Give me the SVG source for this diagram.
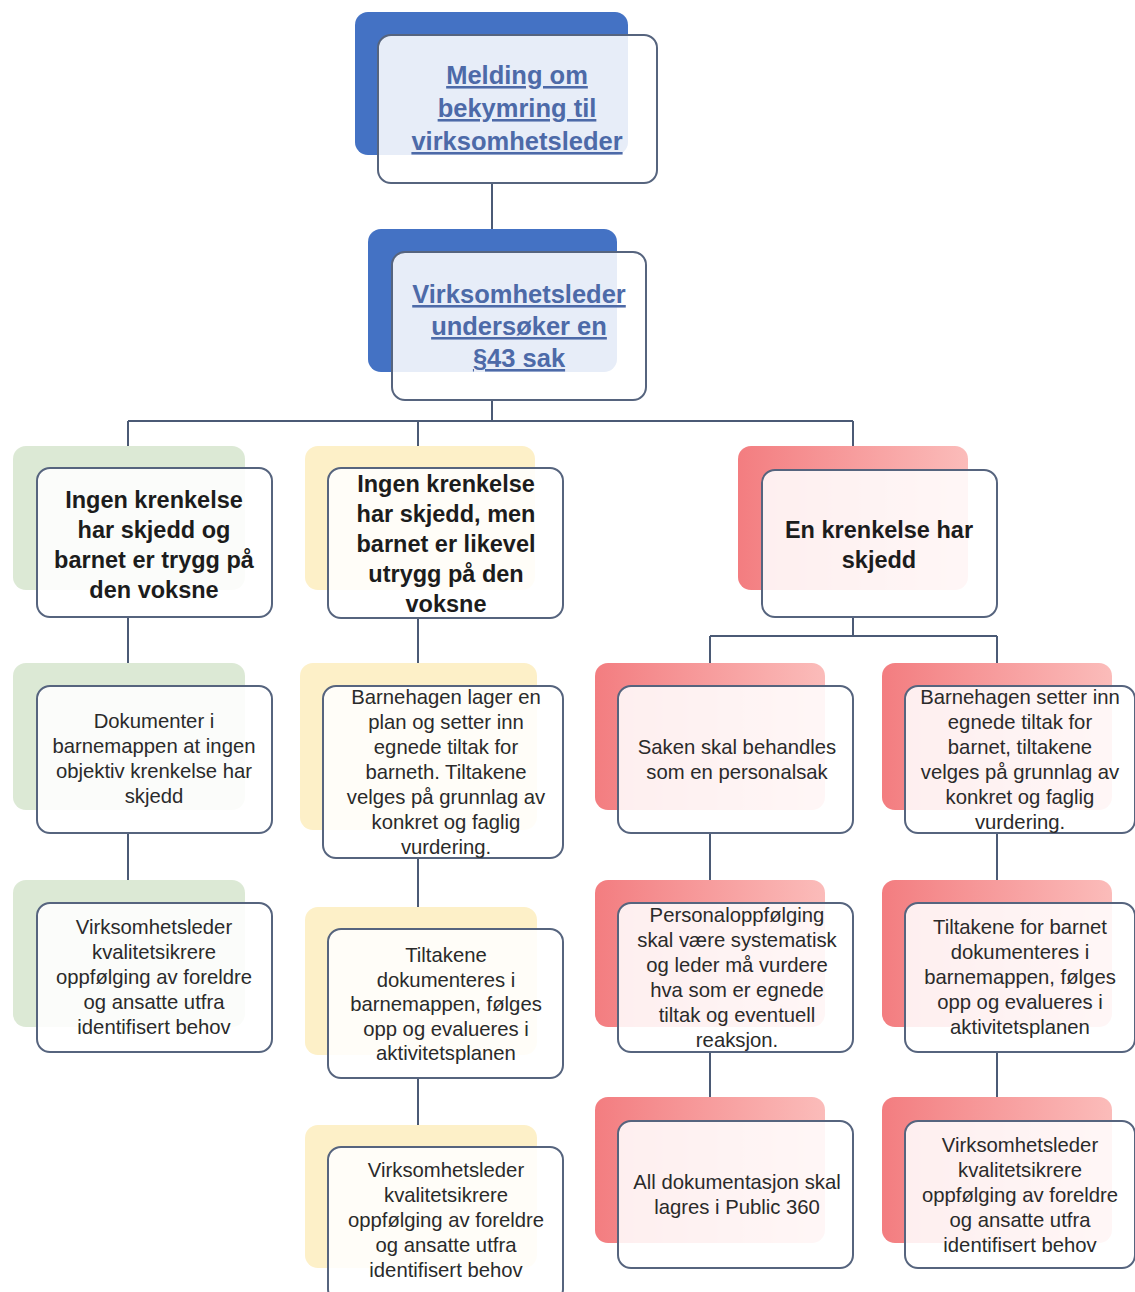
<svg xmlns="http://www.w3.org/2000/svg" width="1135" height="1292" viewBox="0 0 1135 1292">
<defs>
<linearGradient id="gRed" x1="0" y1="0" x2="1" y2="0">
<stop offset="0" stop-color="#f37d80"/>
<stop offset="1" stop-color="#fbbcba"/>
</linearGradient>
<style>
.front{fill:#ffffff;fill-opacity:0.87;stroke:#56647e;stroke-width:2}
.blue{fill:#4472c4}
.green{fill:#dce9d5}
.yellow{fill:#fdf0c8}
.red{fill:url(#gRed)}
.conn{stroke:#4b5a75;stroke-width:2;fill:none}
.ttl{font-family:"Liberation Sans",Arial,sans-serif;font-weight:bold;font-size:25.5px;fill:#4d6aa8;text-anchor:middle;text-decoration:underline}
.hd{font-family:"Liberation Sans",Arial,sans-serif;font-weight:bold;font-size:23.5px;fill:#1c1c1c;text-anchor:middle}
.bd{font-family:"Liberation Sans",Arial,sans-serif;font-size:20.3px;fill:#2a2a2a;text-anchor:middle}
</style>
</defs>
<rect width="1135" height="1292" fill="#ffffff"/>
<g id="connectors">
<path class="conn" d="M492 183V230"/>
<path class="conn" d="M492 400V421M128 421H853M128 421V446M418 421V446M853 421V446"/>
<path class="conn" d="M128 617V663M128 833V880"/>
<path class="conn" d="M418 618V663M418 858V907M418 1078V1125"/>
<path class="conn" d="M853 617V636M710 636H997M710 636V663M997 636V663"/>
<path class="conn" d="M710 833V880M710 1052V1097M997 833V880M997 1052V1097"/>
</g>
<g id="n-melding">
<rect class="blue" x="355" y="12" width="273" height="143" rx="13"/>
<rect class="front" x="378" y="35" width="279" height="148" rx="13"/>
<text class="ttl" x="517" y="84"><tspan x="517">Melding om</tspan><tspan x="517" dy="33">bekymring til</tspan><tspan x="517" dy="33">virksomhetsleder</tspan></text>
</g>
<g id="n-undersoker">
<rect class="blue" x="368" y="229" width="249" height="143" rx="13"/>
<rect class="front" x="392" y="252" width="254" height="148" rx="13"/>
<text class="ttl" x="519" y="303"><tspan x="519">Virksomhetsleder</tspan><tspan x="519" dy="32">undersøker en</tspan><tspan x="519" dy="32">§43 sak</tspan></text>
</g>
<g id="n-trygg">
<rect class="green" x="13" y="446" width="232" height="144" rx="13"/>
<rect class="front" x="37" y="468" width="235" height="149" rx="13"/>
<text class="hd" x="154" y="508"><tspan x="154">Ingen krenkelse</tspan><tspan x="154" dy="30">har skjedd og</tspan><tspan x="154" dy="30">barnet er trygg på</tspan><tspan x="154" dy="30">den voksne</tspan></text>
</g>
<g id="n-utrygg">
<rect class="yellow" x="305" y="446" width="230" height="144" rx="13"/>
<rect class="front" x="328" y="468" width="235" height="150" rx="13"/>
<text class="hd" x="446" y="492"><tspan x="446">Ingen krenkelse</tspan><tspan x="446" dy="30">har skjedd, men</tspan><tspan x="446" dy="30">barnet er likevel</tspan><tspan x="446" dy="30">utrygg på den</tspan><tspan x="446" dy="30">voksne</tspan></text>
</g>
<g id="n-krenkelse">
<rect class="red" x="738" y="446" width="230" height="144" rx="13"/>
<rect class="front" x="762" y="470" width="235" height="147" rx="13"/>
<text class="hd" x="879" y="538"><tspan x="879">En krenkelse har</tspan><tspan x="879" dy="30">skjedd</tspan></text>
</g>
<g id="n-dok">
<rect class="green" x="13" y="663" width="232" height="147" rx="13"/>
<rect class="front" x="37" y="686" width="235" height="147" rx="13"/>
<text class="bd" x="154" y="728"><tspan x="154">Dokumenter i</tspan><tspan x="154" dy="25">barnemappen at ingen</tspan><tspan x="154" dy="25">objektiv krenkelse har</tspan><tspan x="154" dy="25">skjedd</tspan></text>
</g>
<g id="n-vl-green">
<rect class="green" x="13" y="880" width="232" height="147" rx="13"/>
<rect class="front" x="37" y="903" width="235" height="149" rx="13"/>
<text class="bd" x="154" y="934"><tspan x="154">Virksomhetsleder</tspan><tspan x="154" dy="25">kvalitetsikrere</tspan><tspan x="154" dy="25">oppfølging av foreldre</tspan><tspan x="154" dy="25">og ansatte utfra</tspan><tspan x="154" dy="25">identifisert behov</tspan></text>
</g>
<g id="n-plan">
<rect class="yellow" x="300" y="663" width="237" height="167" rx="13"/>
<rect class="front" x="323" y="686" width="240" height="172" rx="13"/>
<text class="bd" x="446" y="704"><tspan x="446">Barnehagen lager en</tspan><tspan x="446" dy="25">plan og setter inn</tspan><tspan x="446" dy="25">egnede tiltak for</tspan><tspan x="446" dy="25">barneth.  Tiltakene</tspan><tspan x="446" dy="25">velges på grunnlag av</tspan><tspan x="446" dy="25">konkret og faglig</tspan><tspan x="446" dy="25">vurdering.</tspan></text>
</g>
<g id="n-tiltak-yellow">
<rect class="yellow" x="305" y="907" width="232" height="148" rx="13"/>
<rect class="front" x="328" y="929" width="235" height="149" rx="13"/>
<text class="bd" x="446" y="962"><tspan x="446">Tiltakene</tspan><tspan x="446" dy="24.5">dokumenteres i</tspan><tspan x="446" dy="24.5">barnemappen, følges</tspan><tspan x="446" dy="24.5">opp  og evalueres  i</tspan><tspan x="446" dy="24.5">aktivitetsplanen</tspan></text>
</g>
<g id="n-vl-yellow">
<rect class="yellow" x="305" y="1125" width="232" height="143" rx="13"/>
<rect class="front" x="328" y="1147" width="235" height="155" rx="13"/>
<text class="bd" x="446" y="1177"><tspan x="446">Virksomhetsleder</tspan><tspan x="446" dy="25">kvalitetsikrere</tspan><tspan x="446" dy="25">oppfølging av foreldre</tspan><tspan x="446" dy="25">og ansatte utfra</tspan><tspan x="446" dy="25">identifisert behov</tspan></text>
</g>
<g id="n-personalsak">
<rect class="red" x="595" y="663" width="230" height="147" rx="13"/>
<rect class="front" x="618" y="686" width="235" height="147" rx="13"/>
<text class="bd" x="737" y="754"><tspan x="737">Saken skal behandles</tspan><tspan x="737" dy="25">som en personalsak</tspan></text>
</g>
<g id="n-personaloppfolging">
<rect class="red" x="595" y="880" width="230" height="147" rx="13"/>
<rect class="front" x="618" y="903" width="235" height="149" rx="13"/>
<text class="bd" x="737" y="922"><tspan x="737">Personaloppfølging</tspan><tspan x="737" dy="25">skal være systematisk</tspan><tspan x="737" dy="25">og leder må vurdere</tspan><tspan x="737" dy="25">hva som er egnede</tspan><tspan x="737" dy="25">tiltak og eventuell</tspan><tspan x="737" dy="25">reaksjon.</tspan></text>
</g>
<g id="n-public360">
<rect class="red" x="595" y="1097" width="230" height="146" rx="13"/>
<rect class="front" x="618" y="1121" width="235" height="147" rx="13"/>
<text class="bd" x="737" y="1189"><tspan x="737">All dokumentasjon skal</tspan><tspan x="737" dy="25">lagres i Public 360</tspan></text>
</g>
<g id="n-tiltak-barnet">
<rect class="red" x="882" y="663" width="230" height="147" rx="13"/>
<rect class="front" x="905" y="686" width="230" height="147" rx="13"/>
<text class="bd" x="1020" y="704"><tspan x="1020">Barnehagen setter inn</tspan><tspan x="1020" dy="25">egnede tiltak for</tspan><tspan x="1020" dy="25">barnet, tiltakene</tspan><tspan x="1020" dy="25">velges på grunnlag av</tspan><tspan x="1020" dy="25">konkret og faglig</tspan><tspan x="1020" dy="25">vurdering.</tspan></text>
</g>
<g id="n-tiltak-dok-red">
<rect class="red" x="882" y="880" width="230" height="147" rx="13"/>
<rect class="front" x="905" y="903" width="230" height="149" rx="13"/>
<text class="bd" x="1020" y="934"><tspan x="1020">Tiltakene for barnet</tspan><tspan x="1020" dy="25">dokumenteres i</tspan><tspan x="1020" dy="25">barnemappen, følges</tspan><tspan x="1020" dy="25">opp og evalueres i</tspan><tspan x="1020" dy="25">aktivitetsplanen</tspan></text>
</g>
<g id="n-vl-red">
<rect class="red" x="882" y="1097" width="230" height="146" rx="13"/>
<rect class="front" x="905" y="1121" width="230" height="147" rx="13"/>
<text class="bd" x="1020" y="1152"><tspan x="1020">Virksomhetsleder</tspan><tspan x="1020" dy="25">kvalitetsikrere</tspan><tspan x="1020" dy="25">oppfølging av foreldre</tspan><tspan x="1020" dy="25">og ansatte utfra</tspan><tspan x="1020" dy="25">identifisert behov</tspan></text>
</g>
</svg>
